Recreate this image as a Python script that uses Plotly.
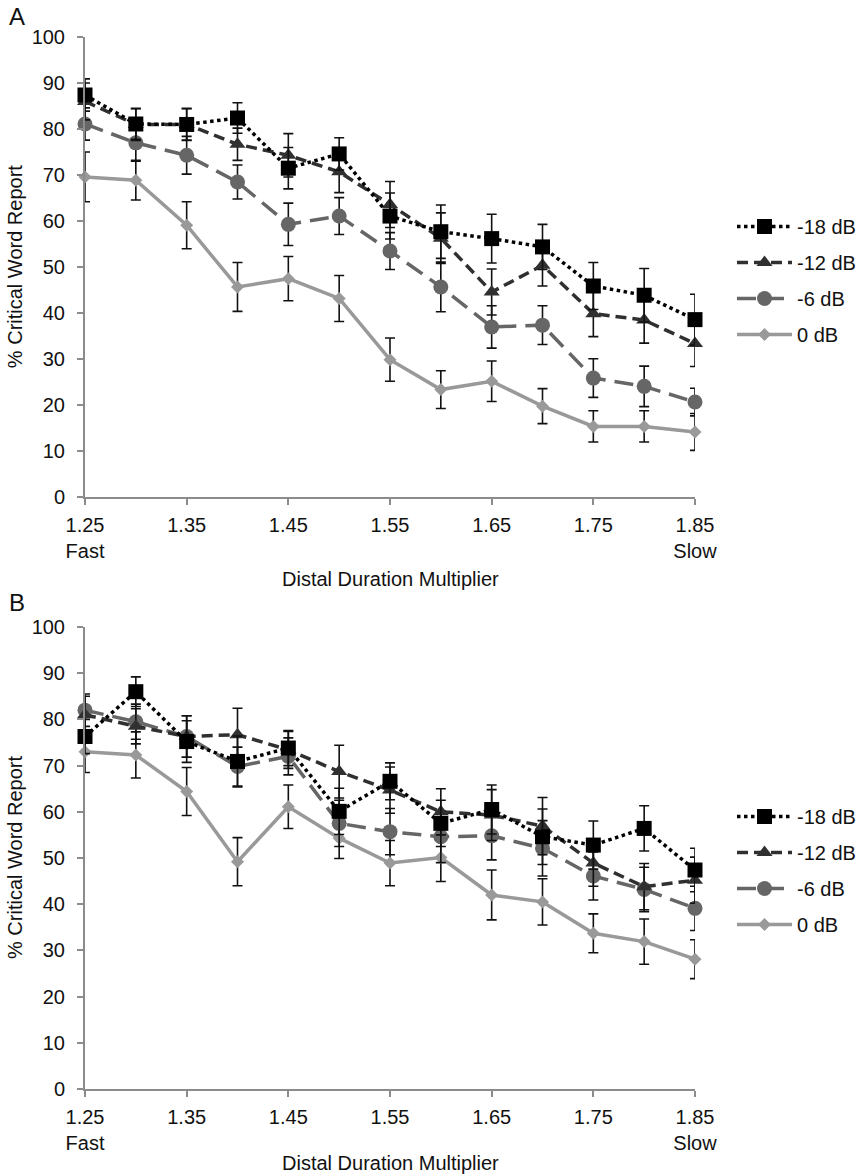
import plotly.graph_objects as go

# Distal duration multipliers (x categories)
multipliers = [1.25, 1.30, 1.35, 1.40, 1.45, 1.50, 1.55, 1.60, 1.65, 1.70, 1.75, 1.80, 1.85]
tick_vals = [1.25, 1.35, 1.45, 1.55, 1.65, 1.75, 1.85]
tick_text = ["1.25<br>Fast", "1.35", "1.45", "1.55", "1.65", "1.75", "1.85<br>Slow"]

series_names = ["-18 dB", "-12 dB", "-6 dB", "0 dB"]

# Panel A: % critical word report and standard errors
a_m18 = [87.4, 81.1, 81.0, 82.4, 71.5, 74.6, 61.1, 57.7, 56.2, 54.4, 45.9, 43.9, 38.6]
a_m18_err = [3.5, 3.3, 3.4, 3.3, 4.5, 3.5, 5.0, 5.8, 5.3, 4.9, 5.1, 5.8, 5.5]
a_m12 = [86.0, 81.0, 81.0, 76.7, 74.3, 70.7, 63.6, 56.3, 44.6, 50.4, 39.9, 38.5, 33.4]
a_m12_err = [4.0, 3.5, 3.5, 3.5, 4.7, 4.5, 5.0, 5.5, 5.0, 4.5, 5.0, 5.0, 5.0]
a_m6 = [81.1, 77.0, 74.3, 68.5, 59.3, 61.1, 53.5, 45.7, 37.0, 37.4, 25.9, 24.1, 20.7]
a_m6_err = [3.5, 4.0, 4.1, 3.7, 4.6, 4.0, 4.0, 5.4, 4.6, 4.2, 4.2, 4.4, 3.0]
a_0 = [69.6, 68.9, 59.1, 45.7, 47.5, 43.2, 29.9, 23.4, 25.2, 19.8, 15.4, 15.4, 14.2]
a_0_err = [5.4, 4.3, 5.1, 5.3, 4.8, 5.0, 4.7, 4.1, 4.4, 3.8, 3.4, 3.4, 4.0]

# Panel B: % critical word report and standard errors
b_m18 = [76.3, 86.0, 75.2, 70.9, 73.8, 60.1, 66.6, 57.5, 60.5, 54.6, 52.8, 56.4, 47.4]
b_m18_err = [3.7, 3.2, 4.5, 5.5, 3.8, 5.0, 4.0, 5.0, 5.3, 6.0, 5.2, 4.9, 4.7]
b_m12 = [81.0, 78.5, 76.3, 76.7, 73.4, 68.7, 64.7, 60.0, 59.3, 56.9, 48.9, 43.8, 45.2]
b_m12_err = [4.0, 3.8, 4.5, 5.7, 4.0, 5.7, 5.0, 5.0, 5.5, 6.2, 5.0, 5.0, 5.0]
b_m6 = [82.0, 79.5, 76.3, 69.8, 72.0, 57.5, 55.7, 54.6, 54.8, 52.1, 46.1, 43.2, 39.1]
b_m6_err = [3.5, 3.8, 4.5, 4.2, 4.0, 5.0, 5.0, 5.6, 5.2, 6.0, 5.2, 4.8, 4.8]
b_0 = [73.0, 72.3, 64.4, 49.2, 61.1, 54.3, 48.9, 50.1, 42.0, 40.5, 33.7, 31.9, 28.1]
b_0_err = [4.5, 5.0, 5.2, 5.2, 4.7, 4.4, 4.9, 5.2, 5.4, 5.0, 4.2, 4.9, 4.2]

# styling per noise level: colour, dash pattern, marker symbol, marker size
styles = {
    "-18 dB": dict(color="#000000", dash="dot", symbol="square", size=15),
    "-12 dB": dict(color="#303030", dash="11px,6px", symbol="triangle-up", size=14),
    "-6 dB": dict(color="#666666", dash="19px,9px", symbol="circle", size=15),
    "0 dB": dict(color="#999999", dash="solid", symbol="diamond", size=10),
}

W, H = 865, 1174
FONT = "Liberation Sans, Arial, sans-serif"
TEXT = "#111111"
AXIS_GRAY = "#8c8c8c"

panels = [
    dict(key="", legend="legend", values=[a_m18, a_m12, a_m6, a_0],
         errors=[a_m18_err, a_m12_err, a_m6_err, a_0_err]),
    dict(key="2", legend="legend2", values=[b_m18, b_m12, b_m6, b_0],
         errors=[b_m18_err, b_m12_err, b_m6_err, b_0_err]),
]

fig = go.Figure()

for p in panels:
    # draw the quietest condition first so -18 dB sits on top
    for rank, name in reversed(list(enumerate(series_names))):
        st = styles[name]
        fig.add_trace(go.Scatter(
            x=multipliers, y=p["values"][rank], name=name,
            mode="lines+markers",
            line=dict(color=st["color"], dash=st["dash"], width=3.5),
            marker=dict(color=st["color"], symbol=st["symbol"], size=st["size"]),
            error_y=dict(type="data", array=p["errors"][rank], visible=True,
                         color=TEXT, thickness=1.6, width=5),
            xaxis="x" + p["key"], yaxis="y" + p["key"],
            legend=p["legend"], legendrank=rank + 1, legendgroup=name + p["key"],
            cliponaxis=False,
        ))

x_dom = [85 / W, 695 / W]
a_dom = [1 - 497.3 / H, 1 - 37 / H]
b_dom = [1 - 1089 / H, 1 - 627 / H]


def x_axis(anchor):
    return dict(
        domain=x_dom, anchor=anchor, range=[1.25, 1.85], automargin=False,
        tickmode="array", tickvals=tick_vals, ticktext=tick_text,
        ticks="outside", ticklen=6, tickwidth=2, tickcolor=AXIS_GRAY,
        showline=True, linecolor=AXIS_GRAY, linewidth=2,
        showgrid=False, zeroline=False, ticklabelstandoff=3,
        tickfont=dict(family=FONT, size=20, color=TEXT),
    )


def y_axis(domain, anchor):
    return dict(
        domain=domain, anchor=anchor, range=[0, 100], dtick=10, automargin=False,
        ticks="outside", ticklen=6, tickwidth=2, tickcolor=AXIS_GRAY,
        showline=True, linecolor=AXIS_GRAY, linewidth=2,
        showgrid=False, zeroline=False, ticklabelstandoff=8,
        tickfont=dict(family=FONT, size=20, color=TEXT),
    )


legend_common = dict(
    x=732 / W, xanchor="left", yanchor="top",
    font=dict(family=FONT, size=20, color=TEXT),
    bgcolor="rgba(0,0,0,0)", borderwidth=0, tracegroupgap=7,
    itemwidth=55,
)

# panel letters and axis titles, placed relative to each panel's axes
annotations = []
for key, letter, top_px, bottom_px, xtitle_px, letter_px in [
        ("", "A", 37, 497.3, 579, 17), ("2", "B", 627, 1089, 1163, 602)]:
    span = bottom_px - top_px
    xref, yref = "x" + key + " domain", "y" + key + " domain"
    annotations.append(dict(
        text=letter, xref=xref, yref=yref,
        x=(17 - 85) / 610, y=(bottom_px - letter_px) / span,
        xanchor="center", yanchor="middle", showarrow=False,
        font=dict(family=FONT, size=24, color=TEXT)))
    annotations.append(dict(
        text="% Critical Word Report", xref=xref, yref=yref,
        x=(15 - 85) / 610, y=0.5, xanchor="center", yanchor="middle",
        showarrow=False, textangle=-90,
        font=dict(family=FONT, size=20, color=TEXT)))
    annotations.append(dict(
        text="Distal Duration Multiplier", xref=xref, yref=yref,
        x=0.5, y=(bottom_px - xtitle_px) / span, xanchor="center", yanchor="middle",
        showarrow=False, font=dict(family=FONT, size=20, color=TEXT)))

fig.update_layout(
    template="none",
    width=W, height=H,
    margin=dict(l=0, r=0, t=0, b=0, pad=0),
    paper_bgcolor="white", plot_bgcolor="white",
    font=dict(family=FONT, color=TEXT),
    xaxis=x_axis("y"), yaxis=y_axis(a_dom, "x"),
    xaxis2=x_axis("y2"), yaxis2=y_axis(b_dom, "x2"),
    legend=dict(y=1 - 207 / H, **legend_common),
    legend2=dict(y=1 - 797 / H, **legend_common),
    annotations=annotations,
    showlegend=True,
)

fig.write_html("out.html")
